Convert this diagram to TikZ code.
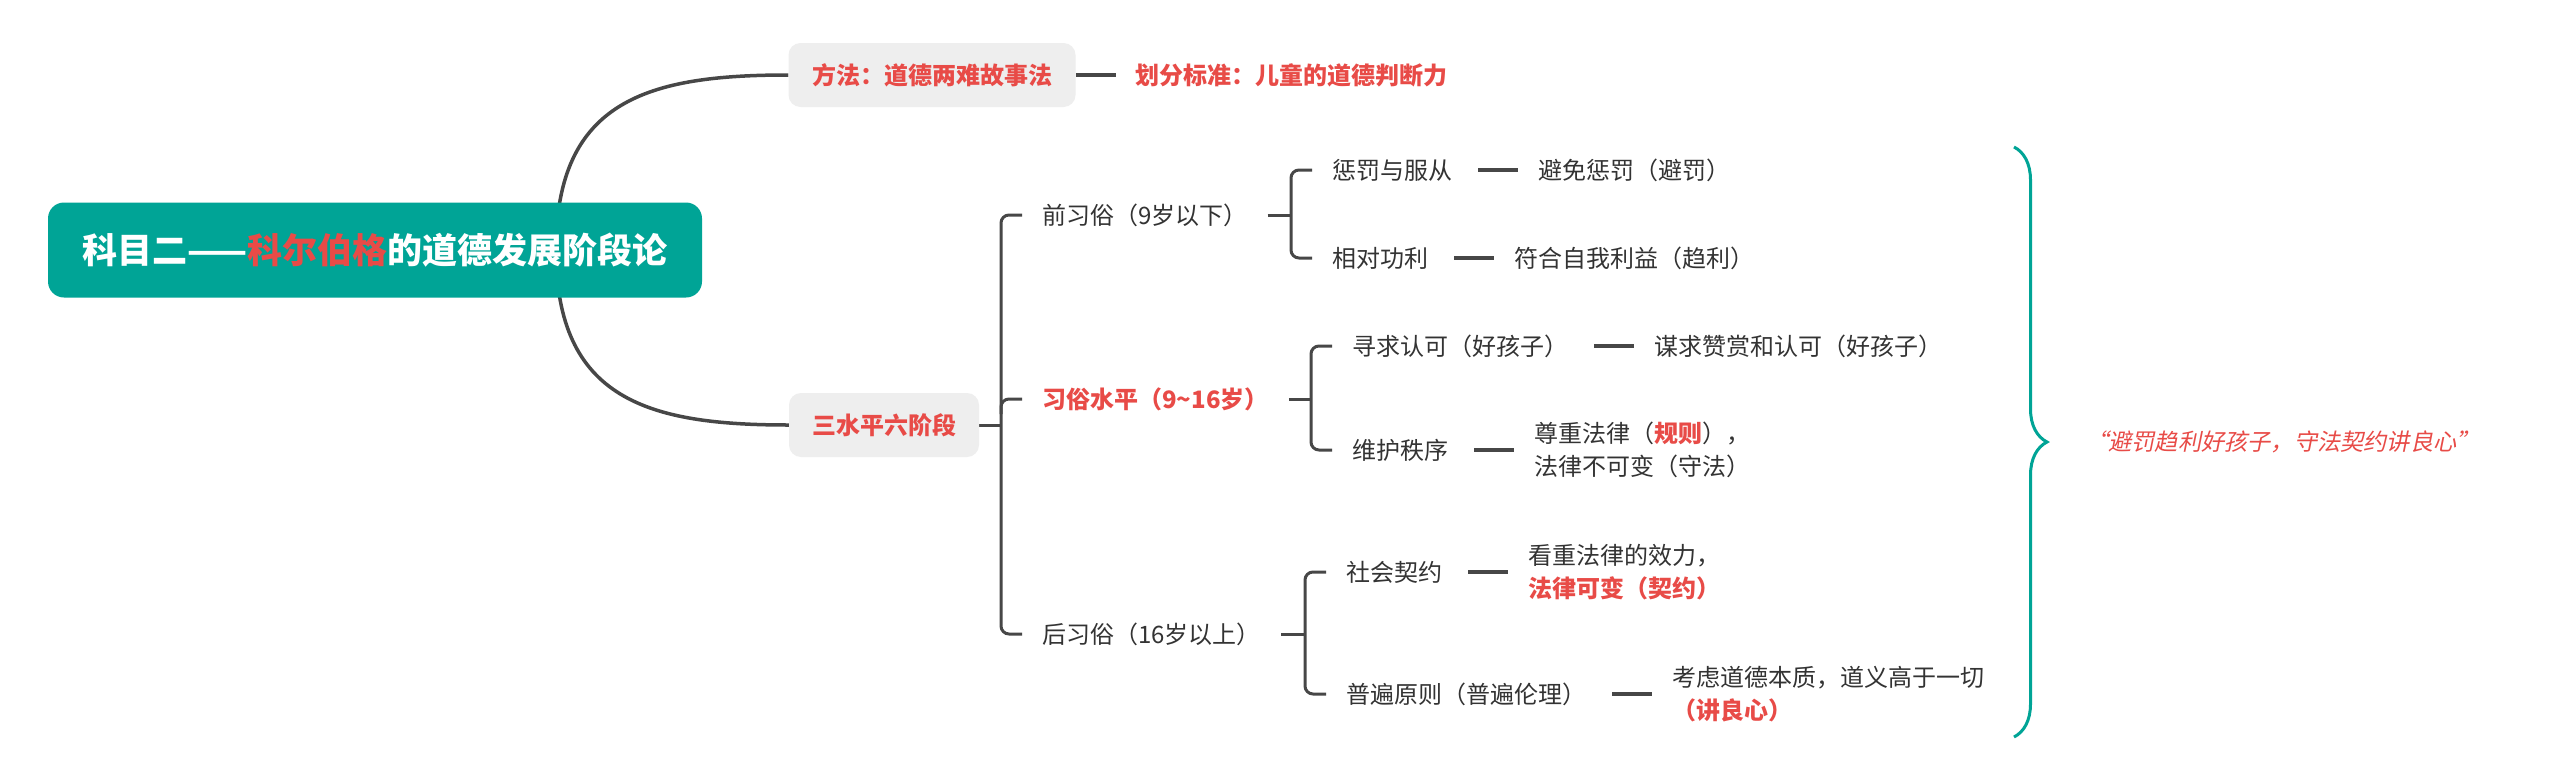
\documentclass[tikz,border=0pt]{standalone}
\usepackage{fontspec}
\setmainfont{Noto Sans CJK SC}
\newfontfamily\cjkinclinada{Noto Sans CJK SC}[FakeSlant=0.2]
\usetikzlibrary{positioning, calc, backgrounds, decorations.pathreplacing}
\definecolor{verdeRaiz}{HTML}{00A496}
\definecolor{rojoTexto}{HTML}{E84B47}
\definecolor{grisCaja}{HTML}{EEEEEE}
\definecolor{grisLinea}{HTML}{474747}
\definecolor{grisTexto}{HTML}{333333}
\colorlet{colRaiz}{verdeRaiz}
\colorlet{colRojo}{rojoTexto}
\colorlet{colCaja}{grisCaja}
\colorlet{colLinea}{grisLinea}
\colorlet{colTexto}{grisTexto}
\tikzset{
  raiz/.style={
    rectangle, rounded corners=16pt, fill=colRaiz, text=white,
    font=\fontsize{35}{40}\selectfont\bfseries,
    minimum width=654pt, minimum height=95pt, inner sep=0pt
  },
  cajaRama/.style={
    rectangle, rounded corners=12pt, fill=colCaja, text=colRojo,
    font=\fontsize{24}{30}\selectfont\bfseries,
    minimum height=64pt, inner sep=0pt
  },
  hoja/.style={
    anchor=west, inner xsep=20pt, inner ysep=4pt, align=left,
    text=colTexto, font=\fontsize{24}{33}\selectfont
  },
  hojaRoja/.style={hoja, text=colRojo, font=\fontsize{24}{33}\selectfont\bfseries},
  rama/.style={draw=colLinea, line width=3pt},
  guion/.style={rama, line width=3.5pt, shorten <=6pt},
  llave/.style={draw=colRaiz, line width=3pt, decorate,
    decoration={brace, amplitude=33pt}},
}
\newcommand{\rojo}[1]{\textcolor{colRojo}{\bfseries #1}}

\begin{document}
\begin{tikzpicture}[x=1pt, y=-1pt]
  \useasboundingbox (0,0) rectangle (2560,779);
  \begin{scope}[on background layer]
    \fill[white] (0,0) rectangle (2560,779);
  \end{scope}

  % raiz y ramas principales
  \node[raiz] (raiz) at (375,250) {科目二——\textcolor{colRojo}{科尔伯格}的道德发展阶段论};
  \node[cajaRama, minimum width=287pt] (metodo) at (932,75) {方法：道德两难故事法};
  \node[hojaRoja, right=40pt of metodo] (criterio) {划分标准：儿童的道德判断力};
  \node[cajaRama, minimum width=190pt] (niveles) at (884,425) {三水平六阶段};

  % tres niveles
  \node[hoja] (pre) at (1022,215) {前习俗（9岁以下）};
  \node[hojaRoja] (conv) at (1022,399) {习俗水平（9\textasciitilde16岁）};
  \node[hoja] (post) at (1022,634) {后习俗（16岁以上）};

  % seis etapas
  \node[hoja] (castigo) at (1312,170) {惩罚与服从};
  \node[hoja, right=46pt of castigo] (evitar) {避免惩罚（避罚）};
  \node[hoja] (utilidad) at (1312,258) {相对功利};
  \node[hoja, right=46pt of utilidad] (interes) {符合自我利益（趋利）};
  \node[hoja] (aprobacion) at (1332,346) {寻求认可（好孩子）};
  \node[hoja, right=46pt of aprobacion] (elogio) {谋求赞赏和认可（好孩子）};
  \node[hoja] (orden) at (1332,450) {维护秩序};
  \node[hoja, right=46pt of orden] (ley) {尊重法律（\rojo{规则}），\\法律不可变（守法）};
  \node[hoja] (contrato) at (1326,572) {社会契约};
  \node[hoja, right=46pt of contrato] (validez) {看重法律的效力，\\\rojo{法律可变（契约）}};
  \node[hoja] (universal) at (1326,694) {普遍原则（普遍伦理）};
  \node[hoja, right=46pt of universal] (conciencia) {考虑道德本质，道义高于一切\\\rojo{（讲良心）}};

  % llave y lema
  \coordinate (llaveSup) at (2014,147);
  \coordinate (llaveInf) at (2014,737);
  \coordinate (llavePunta) at (2047,442);
  \node[hoja, text=colRojo, font=\cjkinclinada\fontsize{23.2}{30}\selectfont,
        right=18pt of llavePunta] (lema) {“避罚趋利好孩子，守法契约讲良心”};

  \coordinate (eje1) at ($(pre.west)+(-21,0)$);
  \coordinate (eje2) at ($(castigo.west)+(-21,0)$);
  \coordinate (eje3) at ($(aprobacion.west)+(-21,0)$);
  \coordinate (eje4) at ($(contrato.west)+(-21,0)$);

  \begin{scope}[on background layer]
    \draw[rama, line width=3.5pt] ($(raiz.center)+(181,0)$) .. controls +(0,-150) and +(-140,0) .. (metodo.west);
    \draw[rama, line width=3.5pt] ($(raiz.center)+(181,0)$) .. controls +(0,150) and +(-140,0) .. (niveles.west);
    \draw[rama, line width=3.5pt] (metodo.east) -- (criterio.west);
    % corchete de niveles
    \draw[rama] (niveles.east) -- (niveles.east -| eje1);
    \draw[rama, rounded corners=8pt] (pre.west) -- (eje1) |- (post.west);
    \draw[rama, rounded corners=8pt] ($(eje1 |- conv.west)+(0,15)$) |- (conv.west);
    % corchetes de etapas
    \draw[rama] (pre.east) -- (pre.east -| eje2);
    \draw[rama, rounded corners=8pt] (castigo.west) -- (eje2) |- (utilidad.west);
    \draw[rama] (conv.east) -- (conv.east -| eje3);
    \draw[rama, rounded corners=8pt] (aprobacion.west) -- (eje3) |- (orden.west);
    \draw[rama] (post.east) -- (post.east -| eje4);
    \draw[rama, rounded corners=8pt] (contrato.west) -- (eje4) |- (universal.west);
    % guiones
    \draw[guion] (castigo.east) -- (evitar.west);
    \draw[guion] (utilidad.east) -- (interes.west);
    \draw[guion] (aprobacion.east) -- (elogio.west);
    \draw[guion] (orden.east) -- (ley.west);
    \draw[guion] (contrato.east) -- (validez.west);
    \draw[guion] (universal.east) -- (conciencia.west);
  \end{scope}
  \draw[llave] (llaveSup) -- (llaveInf);
\end{tikzpicture}
\end{document}
